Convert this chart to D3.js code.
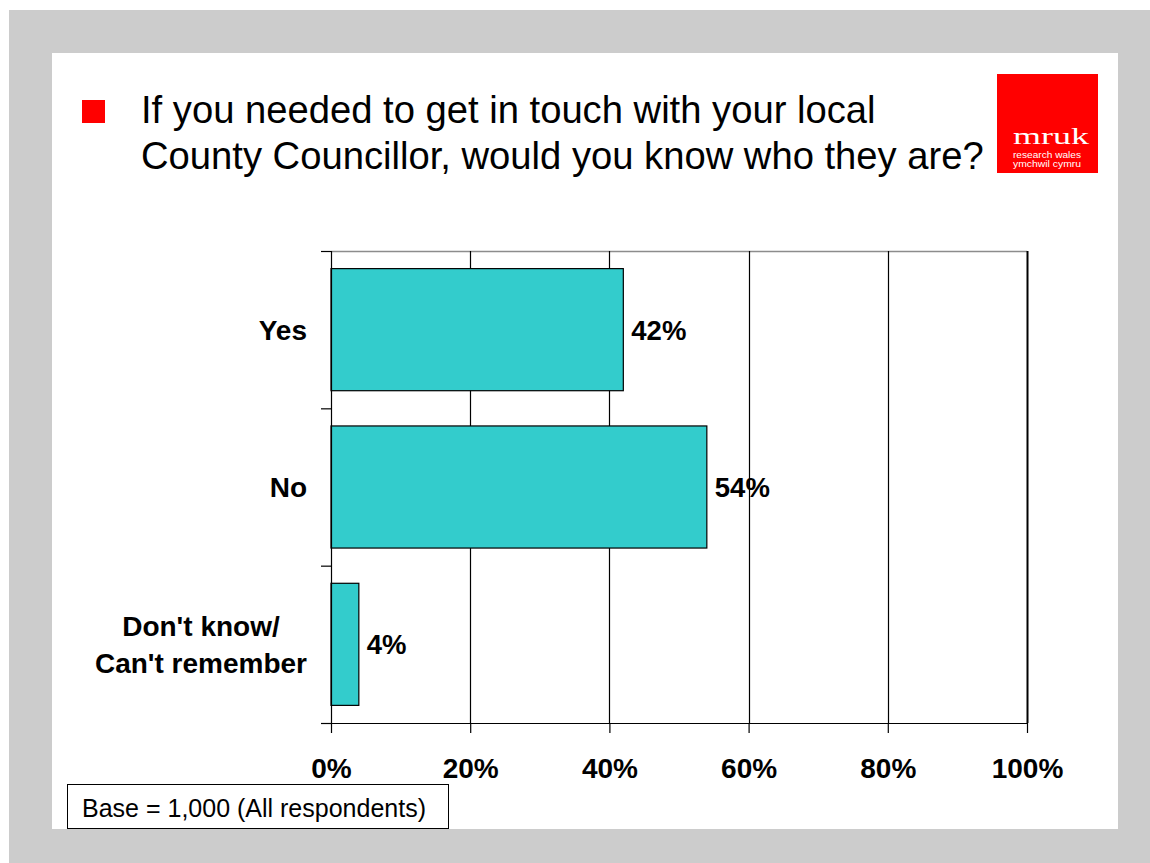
<!DOCTYPE html>
<html>
<head>
<meta charset="utf-8">
<script src="https://cdn.jsdelivr.net/npm/d3@7"></script>
<style>
  html, body { margin: 0; padding: 0; background: #ffffff; }
  svg { display: block; font-family: "Liberation Sans", Arial, sans-serif; }
</style>
</head>
<body>
<svg id="chart" width="1150" height="863"></svg>
<script>
// Survey answers: share of respondents (%)
const categories = [["Yes"], ["No"], ["Don't know/", "Can't remember"]];
const values = [42, 54, 4];
const xTicks = [0, 20, 40, 60, 80, 100];
const titleLines = [
  "If you needed to get in touch with your local",
  "County Councillor, would you know who they are?"
];
const baseNote = "Base = 1,000 (All respondents)";

const svg = d3.select("#chart");

// slide background and white content panel
svg.append("rect").attr("x", 9).attr("y", 10).attr("width", 1141).attr("height", 853).attr("fill", "#cccccc");
svg.append("rect").attr("x", 52).attr("y", 53).attr("width", 1066).attr("height", 776).attr("fill", "#ffffff");

// bullet + question title
svg.append("rect").attr("x", 82).attr("y", 100).attr("width", 23).attr("height", 23).attr("fill", "#ff0000");
svg.append("g").selectAll("text").data(titleLines).join("text")
  .attr("x", 141).attr("y", (d, i) => 123 + i * 46)
  .attr("font-size", 38.2).attr("fill", "#000").text(d => d);

// logo block
const logo = svg.append("g");
logo.append("rect").attr("x", 997).attr("y", 74).attr("width", 101).attr("height", 99).attr("fill", "#ff0000");
logo.append("text").attr("x", 1013).attr("y", 144)
  .style("font-family", "'Liberation Serif', 'DejaVu Serif', serif")
  .attr("font-size", 24).attr("fill", "#fff")
  .attr("textLength", 76).attr("lengthAdjust", "spacingAndGlyphs").text("mruk");
logo.append("text").attr("x", 1013).attr("y", 158)
  .attr("font-size", 9.5).attr("fill", "#fff")
  .attr("textLength", 68).attr("lengthAdjust", "spacingAndGlyphs").text("research wales");
logo.append("text").attr("x", 1013).attr("y", 167)
  .attr("font-size", 9.5).attr("fill", "#fff")
  .attr("textLength", 68).attr("lengthAdjust", "spacingAndGlyphs").text("ymchwil cymru");

// plot area
const plotLeft = 331, plotRight = 1027, plotTop = 251, plotBottom = 723;
const x = d3.scaleLinear().domain([0, 100]).range([plotLeft, plotRight]);
const y = d3.scaleBand().domain(d3.range(values.length)).range([plotTop, plotBottom])
  .paddingInner(0.224).paddingOuter(0.112);
const yEdge = d3.scaleLinear().domain([0, values.length]).range([plotTop, plotBottom]);

// plot frame: grey top edge
svg.append("line").attr("x1", plotLeft).attr("x2", plotRight).attr("y1", plotTop + 0.5).attr("y2", plotTop + 0.5)
  .attr("stroke", "#8c8c8c").attr("stroke-width", 1.5);

// vertical gridlines (the 100% line doubles as the right frame edge)
svg.append("g").selectAll("line").data(xTicks.filter(d => d > 0)).join("line")
  .attr("x1", d => Math.round(x(d)) + 0.5).attr("x2", d => Math.round(x(d)) + 0.5)
  .attr("y1", plotTop).attr("y2", plotBottom)
  .attr("stroke", "#000").attr("stroke-width", d => d === 100 ? 2 : 1.2);

// bars
svg.append("g").selectAll("rect").data(values).join("rect")
  .attr("x", x(0))
  .attr("y", (d, i) => y(i))
  .attr("width", d => x(d) - x(0))
  .attr("height", y.bandwidth())
  .attr("fill", "#33cccc").attr("stroke", "#000").attr("stroke-width", 1.2);

// value labels
svg.append("g").selectAll("text").data(values).join("text")
  .attr("x", d => x(d) + 8)
  .attr("y", (d, i) => y(i) + y.bandwidth() / 2 + 10)
  .attr("font-size", 27.5).attr("font-weight", "bold").attr("fill", "#000")
  .text(d => d + "%");

// category axis with ticks at band boundaries
const yAxis = svg.append("g").attr("transform", `translate(${plotLeft},0)`)
  .call(d3.axisLeft(yEdge).tickValues(d3.range(values.length + 1)).tickSize(10).tickFormat(""));
yAxis.selectAll("path, line").attr("stroke", "#000").attr("stroke-width", 1.2);

// value axis
const xAxis = svg.append("g").attr("transform", `translate(0,${plotBottom})`)
  .call(d3.axisBottom(x).tickValues(xTicks).tickSize(10).tickPadding(25).tickFormat(d => d + "%"));
xAxis.selectAll("path, line").attr("stroke", "#000").attr("stroke-width", 1.2);
xAxis.select(".domain").attr("d", `M${plotLeft - 10},0.5H${plotRight}`);
xAxis.selectAll("text")
  .attr("font-family", "'Liberation Sans', Arial, sans-serif")
  .attr("font-size", 28).attr("font-weight", "bold").attr("fill", "#000");

// category labels: block right-aligned to the axis, lines centred within it
const labelRight = 307;
const catG = svg.append("g");
categories.forEach((lines, i) => {
  const g = catG.append("g");
  const lineH = 37;
  const cy = y(i) + y.bandwidth() / 2;
  const texts = g.selectAll("text").data(lines).join("text")
    .attr("font-size", 28).attr("font-weight", "bold").attr("fill", "#000")
    .attr("text-anchor", "middle")
    .attr("y", (d, k) => cy + 10 + (k - (lines.length - 1) / 2) * lineH)
    .text(d => d);
  let w = 0;
  texts.each(function () { w = Math.max(w, this.getComputedTextLength()); });
  texts.attr("x", labelRight - w / 2);
});

// base note
svg.append("rect").attr("x", 67.5).attr("y", 784.5).attr("width", 381).attr("height", 44)
  .attr("fill", "#fff").attr("stroke", "#000").attr("stroke-width", 1);
svg.append("text").attr("x", 82).attr("y", 817).attr("font-size", 25).attr("fill", "#000").text(baseNote);
</script>
</body>
</html>
